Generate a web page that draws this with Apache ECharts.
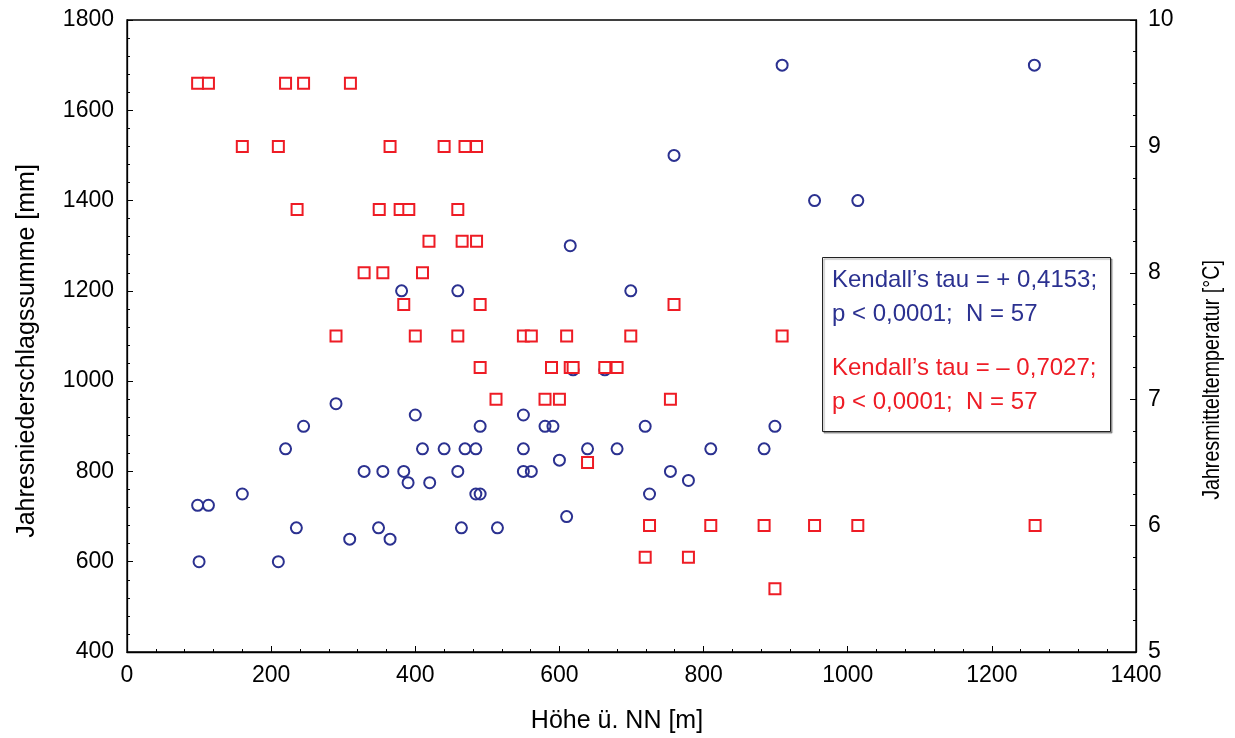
<!DOCTYPE html>
<html>
<head>
<meta charset="utf-8">
<script src="https://cdn.jsdelivr.net/npm/echarts@6/dist/echarts.min.js"></script>
<style>
html,body{margin:0;padding:0;background:#fff;}
#c{width:1235px;height:738px;}
</style>
</head>
<body>
<div id="c"></div>
<script>
// Elevation (m) and annual precipitation (mm) — blue circles
var precipElev = [98,113,160,100,210,220,245,235,290,309,329,355,349,365,384,390,400,410,420,440,459,464,469,484,484,490,490,381,459,615,699,619,663,550,580,591,719,899,550,639,680,810,884,550,561,754,600,779,725,610,514,909,1259,954,1014,759];
var precipVals = [725,725,750,600,600,850,900,675,950,650,800,800,675,650,800,775,925,850,775,850,800,675,850,850,750,750,900,1200,1200,1300,1200,1025,1025,925,900,900,900,900,850,850,850,850,850,800,800,800,825,780,750,700,675,1700,1700,1400,1400,1500];
// Elevation (m) and annual mean temperature (°C) — red squares
var tempElev = [98,113,220,245,310,160,210,365,440,469,485,236,350,379,391,459,419,465,485,329,355,410,384,490,290,400,459,490,512,759,550,561,610,699,909,589,615,619,663,680,580,600,754,639,725,810,884,954,1014,1260,719,779,899];
var tempVals = [9.5,9.5,9.5,9.5,9.5,9,9,9,9,9,9,8.5,8.5,8.5,8.5,8.5,8.25,8.25,8.25,8,8,8,7.75,7.75,7.5,7.5,7.5,7.25,7,7.75,7.5,7.5,7.5,7.5,7.5,7.25,7.25,7.25,7.25,7.25,7,7,7,6.5,6,6,6,6,6,6,5.75,5.75,5.5];

var xTitle = 'Höhe ü. NN [m]';
var yLeftTitle = 'Jahresniederschlagssumme [mm]';
var yRightTitle = 'Jahresmitteltemperatur [°C]';
var statLines = ['Kendall\u2019s tau = + 0,4153;', 'p < 0,0001;  N = 57', 'Kendall\u2019s tau = \u2013 0,7027;', 'p < 0,0001;  N = 57'];

var BLUE = '#2b3190';
var RED = '#ee1c25';
var FONT = '"Liberation Sans", Arial, Helvetica, sans-serif';

function zip(a, b){ return a.map(function(v,i){ return [v, b[i]]; }); }
function plain(v){ return String(v); }

var chart = echarts.init(document.getElementById('c'));
var axisCommon = {
  axisLine: {show: true, lineStyle: {color: '#000', width: 1.3}},
  axisTick: {show: true, inside: true, length: 6, lineStyle: {color: '#000', width: 1}},
  minorTick: {show: true, length: 3, lineStyle: {color: '#000', width: 1}},
  splitLine: {show: false},
  axisLabel: {color: '#000', fontSize: 23, fontFamily: FONT, formatter: plain}
};
chart.setOption({
  animation: false,
  backgroundColor: '#fff',
  grid: {left: 127, right: 99, top: 20, bottom: 86, show: true, borderColor: '#000', borderWidth: 1.3},
  xAxis: Object.assign({}, axisCommon, {
    type: 'value', min: 0, max: 1400, interval: 200,
    minorTick: Object.assign({}, axisCommon.minorTick, {splitNumber: 5}),
    axisLabel: Object.assign({}, axisCommon.axisLabel, {margin: 12})
  }),
  yAxis: [
    Object.assign({}, axisCommon, {
      type: 'value', min: 400, max: 1800, interval: 200, position: 'left',
      minorTick: Object.assign({}, axisCommon.minorTick, {splitNumber: 5}),
      axisLabel: Object.assign({}, axisCommon.axisLabel, {margin: 13})
    }),
    Object.assign({}, axisCommon, {
      type: 'value', min: 5, max: 10, interval: 1, position: 'right',
      minorTick: Object.assign({}, axisCommon.minorTick, {splitNumber: 4}),
      axisLabel: Object.assign({}, axisCommon.axisLabel, {margin: 12})
    })
  ],
  series: [
    {
      type: 'scatter', yAxisIndex: 0, data: zip(precipElev, precipVals),
      symbol: 'circle', symbolSize: 11,
      itemStyle: {color: 'rgba(255,255,255,0)', borderColor: BLUE, borderWidth: 2, opacity: 1},
      emphasis: {disabled: true}
    },
    {
      type: 'scatter', yAxisIndex: 1, data: zip(tempElev, tempVals),
      symbol: 'rect', symbolSize: 11,
      itemStyle: {color: '#fff', borderColor: RED, borderWidth: 2, opacity: 1},
      emphasis: {disabled: true}
    }
  ],
  graphic: [
    {type: 'text', x: 617, y: 721, style: {text: xTitle, fill: '#000', font: '25px ' + FONT, textAlign: 'center', textVerticalAlign: 'middle'}},
    {type: 'text', x: 27, y: 351, rotation: Math.PI / 2, style: {text: yLeftTitle, fill: '#000', font: '25px ' + FONT, textAlign: 'center', textVerticalAlign: 'middle'}},
    {type: 'text', x: 1212, y: 380, rotation: Math.PI / 2, scaleX: 0.82, style: {text: yRightTitle, fill: '#000', font: '24px ' + FONT, textAlign: 'center', textVerticalAlign: 'middle'}},
    {type: 'rect', shape: {x: 822.5, y: 257.5, width: 288, height: 174}, style: {fill: '#fff', stroke: '#222', lineWidth: 1, shadowColor: 'rgba(0,0,0,0.35)', shadowOffsetX: 1.5, shadowOffsetY: 1.5, shadowBlur: 1}, z: 100},
    {type: 'text', x: 832, y: 280, style: {text: statLines[0], fill: BLUE, font: '24px ' + FONT, textVerticalAlign: 'middle'}, z: 101},
    {type: 'text', x: 832, y: 314, style: {text: statLines[1], fill: BLUE, font: '24px ' + FONT, textVerticalAlign: 'middle'}, z: 101},
    {type: 'text', x: 832, y: 368, style: {text: statLines[2], fill: RED, font: '24px ' + FONT, textVerticalAlign: 'middle'}, z: 101},
    {type: 'text', x: 832, y: 402, style: {text: statLines[3], fill: RED, font: '24px ' + FONT, textVerticalAlign: 'middle'}, z: 101}
  ]
});
</script>
</body>
</html>
